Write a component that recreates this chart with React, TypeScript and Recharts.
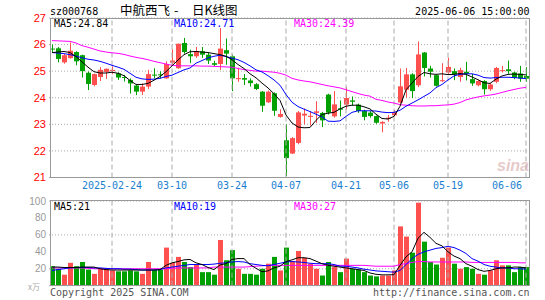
import { ComposedChart, Bar, Line, XAxis, YAxis, CartesianGrid, ReferenceLine } from "recharts";

// 中航西飞 日K线, 2025-02-10 .. 2025-06-06
const dates = [
  "2025-02-10", "2025-02-11", "2025-02-12", "2025-02-13", "2025-02-14",
  "2025-02-17", "2025-02-18", "2025-02-19", "2025-02-20", "2025-02-21",
  "2025-02-24", "2025-02-25", "2025-02-26", "2025-02-27", "2025-02-28",
  "2025-03-03", "2025-03-04", "2025-03-05", "2025-03-06", "2025-03-07",
  "2025-03-10", "2025-03-11", "2025-03-12", "2025-03-13", "2025-03-14",
  "2025-03-17", "2025-03-18", "2025-03-19", "2025-03-20", "2025-03-21",
  "2025-03-24", "2025-03-25", "2025-03-26", "2025-03-27", "2025-03-28",
  "2025-03-31", "2025-04-01", "2025-04-02", "2025-04-03", "2025-04-07",
  "2025-04-08", "2025-04-09", "2025-04-10", "2025-04-11", "2025-04-14",
  "2025-04-15", "2025-04-16", "2025-04-17", "2025-04-18", "2025-04-21",
  "2025-04-22", "2025-04-23", "2025-04-24", "2025-04-25", "2025-04-28",
  "2025-04-29", "2025-04-30", "2025-05-06", "2025-05-07", "2025-05-08",
  "2025-05-09", "2025-05-12", "2025-05-13", "2025-05-14", "2025-05-15",
  "2025-05-16", "2025-05-19", "2025-05-20", "2025-05-21", "2025-05-22",
  "2025-05-23", "2025-05-26", "2025-05-27", "2025-05-28", "2025-05-29",
  "2025-05-30", "2025-06-03", "2025-06-04", "2025-06-05", "2025-06-06",
];

const opens = [
  25.85, 25.86, 25.33, 25.49, 25.72, 25.6, 24.94, 24.48, 24.78, 24.97,
  25.0, 24.92, 24.78, 24.67, 24.46, 24.23, 24.42, 24.87, 24.88, 24.73,
  25.32, 25.11, 26.06, 25.64, 25.56, 25.75, 25.62, 25.3, 25.27, 25.79,
  25.56, 24.7, 24.74, 24.65, 24.51, 24.23, 23.83, 24.17, 23.28, 22.4,
  21.9, 22.3, 23.33, 23.28, 23.43, 23.43, 24.12, 23.3, 23.6, 23.74,
  23.9, 23.74, 23.5, 23.44, 23.31, 23.03, 23.2, 23.34, 23.82, 24.3,
  24.88, 24.47, 25.7, 25.1, 24.85, 24.62, 24.95, 25.0, 24.78, 24.98,
  24.7, 24.47, 24.63, 24.32, 24.6, 25.0, 25.07, 24.95, 24.91, 24.82,
];
const highs = [
  26.0, 25.91, 25.65, 26.08, 25.75, 25.62, 24.99, 24.91, 25.15, 25.1,
  25.18, 24.96, 24.86, 24.73, 24.48, 24.54, 25.05, 25.11, 24.99, 25.37,
  25.82, 26.04, 26.25, 25.81, 25.91, 25.91, 25.69, 25.39, 26.62, 26.23,
  25.62, 25.13, 24.89, 24.73, 24.55, 24.25, 24.27, 24.2, 23.57, 23.0,
  22.52, 23.5, 23.6, 23.5, 23.87, 23.47, 24.15, 24.25, 23.9, 24.4,
  24.05, 23.78, 23.55, 23.5, 23.33, 23.12, 23.35, 23.54, 25.1, 25.12,
  24.92, 26.12, 25.72, 25.2, 24.87, 25.3, 25.51, 25.1, 25.13, 25.35,
  24.9, 24.66, 24.66, 24.55, 25.16, 25.2, 25.4, 24.98, 25.2, 25.15,
];
const lows = [
  25.7, 25.33, 25.28, 25.47, 25.22, 24.76, 24.29, 24.43, 24.63, 24.71,
  24.88, 24.67, 24.61, 24.16, 24.1, 24.1, 24.33, 24.73, 24.73, 24.71,
  25.25, 25.09, 25.66, 25.3, 25.5, 25.5, 25.27, 25.18, 25.05, 25.24,
  24.25, 24.6, 24.48, 24.42, 24.29, 23.47, 23.8, 23.32, 23.25, 21.05,
  21.88, 22.25, 23.0, 22.95, 23.05, 22.9, 23.37, 23.25, 23.3, 23.56,
  23.7, 23.43, 23.15, 23.25, 23.02, 22.7, 23.1, 23.3, 23.78, 24.0,
  23.99, 24.4, 24.8, 24.76, 24.42, 24.6, 24.87, 24.66, 24.6, 24.65,
  24.45, 24.43, 24.12, 24.26, 24.55, 24.95, 24.9, 24.7, 24.6, 24.6,
];
const closes = [
  25.83, 25.46, 25.6, 25.77, 25.37, 25.0, 24.52, 24.89, 25.05, 25.09,
  25.05, 24.76, 24.75, 24.54, 24.23, 24.42, 24.89, 24.85, 24.86, 25.27,
  25.4, 26.03, 25.72, 25.56, 25.75, 25.62, 25.4, 25.24, 25.85, 25.66,
  24.73, 24.74, 24.68, 24.55, 24.33, 23.7, 24.23, 23.51, 23.39, 21.73,
  22.48, 23.45, 23.4, 23.32, 23.49, 23.15, 23.44, 23.75, 23.55, 23.99,
  23.85, 23.5, 23.28, 23.31, 23.06, 23.09, 23.25, 23.46, 24.43, 24.88,
  24.25, 25.63, 25.12, 24.98, 24.45, 24.66, 25.16, 24.88, 25.04, 24.9,
  24.54, 24.63, 24.32, 24.5, 25.12, 25.04, 25.0, 24.75, 24.72, 24.72,
];

// price moving averages as drawn
const ma5 = [
  25.7, 25.72, 25.74, 25.7, 25.55, 25.35, 25.15, 24.98, 24.93, 24.93,
  24.96, 24.92, 24.83, 24.65, 24.5, 24.5, 24.54, 24.66, 24.8, 24.98,
  25.2, 25.42, 25.62, 25.73, 25.74, 25.72, 25.7, 25.66, 25.62, 25.56,
  25.43, 25.25, 25.1, 24.9, 24.75, 24.55, 24.37, 24.15, 23.9, 23.35,
  23.05, 22.9, 22.87, 22.88, 23.15, 23.37, 23.42, 23.45, 23.58, 23.68,
  23.72, 23.72, 23.66, 23.58, 23.38, 23.22, 23.2, 23.3, 23.68, 24.3,
  24.55, 24.8, 24.95, 24.9, 24.88, 24.9, 24.87, 24.88, 24.91, 24.88,
  24.78, 24.68, 24.56, 24.54, 24.7, 24.82, 24.88, 24.89, 24.88, 24.86,
];
const ma10 = [
  25.7, 25.68, 25.66, 25.62, 25.57, 25.5, 25.45, 25.42, 25.37, 25.3,
  25.22, 25.15, 25.07, 24.92, 24.77, 24.71, 24.69, 24.7, 24.73, 24.8,
  24.85, 24.95, 25.05, 25.12, 25.3, 25.4, 25.5, 25.56, 25.6, 25.55,
  25.49, 25.43, 25.33, 25.2, 25.05, 24.97, 24.83, 24.67, 24.47, 24.12,
  23.83, 23.67, 23.57, 23.48, 23.38, 23.28, 23.12, 23.11, 23.13, 23.3,
  23.45, 23.51, 23.51, 23.51, 23.5, 23.46, 23.44, 23.45, 23.53, 23.68,
  23.8, 23.92, 24.05, 24.18, 24.38, 24.5, 24.67, 24.82, 24.88, 24.9,
  24.9, 24.85, 24.76, 24.74, 24.76, 24.77, 24.77, 24.76, 24.74, 24.72,
];
const ma30 = [
  26.15, 26.14, 26.13, 26.12, 26.06, 25.96, 25.9, 25.83, 25.76, 25.72,
  25.69, 25.67, 25.63, 25.57, 25.52, 25.48, 25.43, 25.37, 25.32, 25.27,
  25.22, 25.2, 25.2, 25.2, 25.2, 25.19, 25.19, 25.18, 25.17, 25.16,
  25.15, 25.1, 25.06, 25.03, 25.0, 25.0, 24.98, 24.96, 24.92, 24.85,
  24.73, 24.67, 24.63, 24.6, 24.55, 24.5, 24.45, 24.41, 24.37, 24.3,
  24.23, 24.16, 24.1, 24.06, 23.94, 23.9, 23.84, 23.8, 23.74, 23.72,
  23.7, 23.69, 23.69, 23.7, 23.7, 23.72, 23.73, 23.76, 23.82, 23.92,
  23.98, 24.03, 24.07, 24.1, 24.14, 24.2, 24.26, 24.31, 24.36, 24.39,
];

// 成交量 (万手)
const volumes = [
  23, 20, 13, 27, 23, 28, 19, 14, 20, 20,
  18, 17, 17, 18, 17, 14, 28, 19, 19, 45,
  27, 34, 28, 22, 25, 16, 16, 13, 54, 30,
  42, 20, 14, 14, 13, 20, 26, 34, 18, 45,
  29, 41, 33, 26, 20, 12, 28, 22, 16, 32,
  20, 19, 16, 12, 11, 12, 12, 18, 70, 58,
  39, 98, 52, 28, 25, 33, 45, 26, 20, 22,
  20, 14, 13, 18, 30, 24, 24, 16, 22, 22,
];
const vma5 = [
  22, 22, 21.5, 21.5, 21.5, 22, 22, 22, 20, 19,
  18.5, 18.5, 18.5, 18.5, 18.5, 18.5, 18.5, 18.5, 19, 24,
  27, 28.5, 30.5, 31, 27, 25, 21.5, 19, 24.5, 26,
  31, 32, 32, 25, 20.5, 16.5, 17.5, 21, 23, 28.5,
  30.5, 33, 33, 32, 29, 26, 24, 23, 22, 21,
  20, 19, 18, 15, 13.5, 12.8, 12.8, 13, 24, 34,
  40, 56, 63, 57, 50, 47, 40, 35, 32, 26,
  23, 19, 17, 18, 20, 21, 21, 22, 22, 21,
];
const vma10 = [
  18, 19, 20, 21, 21.5, 21.5, 21.5, 21, 21, 20.5,
  20, 20, 19.5, 19.5, 19, 18.5, 18.5, 18.5, 19, 21,
  22, 23, 24, 25, 25, 25, 25, 25.5, 26.5, 27,
  28, 28.5, 28, 26, 25, 24, 23.5, 25, 26.5, 28,
  28.5, 28, 27.5, 26.5, 26, 26, 26, 25, 23, 23,
  22, 21, 19.5, 18.5, 17.5, 17, 16.5, 16, 18, 25,
  32, 37, 40, 42, 44, 45, 46.5, 45, 42, 38,
  32, 29, 25, 23, 22, 21, 21, 20, 20, 19.5,
];
const vma30 = [
  21, 21, 21, 21, 21, 21, 20.5, 20, 20, 20,
  20, 20, 20, 20, 20, 20, 20, 20, 20, 20,
  20.5, 21, 21, 21, 21, 21, 21, 22, 22, 22,
  22, 22, 22, 22.5, 23, 23.5, 24, 24, 24, 24,
  24, 24, 24, 24, 24, 24, 24, 24, 24, 24,
  24, 24, 24, 23.5, 23, 23, 23, 23, 25, 26,
  27.5, 28.5, 28.5, 28, 28, 28, 28, 28, 28, 28,
  27.5, 27.5, 27.5, 27.5, 27.5, 27.5, 27.5, 27.5, 27, 27,
];

const tickDates = ["2025-02-24", "2025-03-10", "2025-03-24", "2025-04-07", "2025-04-21", "2025-05-06", "2025-05-19", "2025-06-06"];
const priceTicks = [21, 22, 23, 24, 25, 26, 27];
const volTicks = [0, 20, 40, 60, 80, 100];

const RED = "#ff5050";
const GREEN = "#00a000";
const MONO = "'DejaVu Sans Mono', monospace";
const SANS = "'Liberation Sans', Arial, sans-serif";
const GRID = "#aaaaaa";

const rows = dates.map((date, i) => ({
  date,
  open: opens[i],
  high: highs[i],
  low: lows[i],
  close: closes[i],
  range: [lows[i], highs[i]],
  ma5: ma5[i],
  ma10: ma10[i],
  ma30: ma30[i],
  vol: volumes[i],
  vma5: vma5[i],
  vma10: vma10[i],
  vma30: vma30[i],
}));

const fmtDate = (d: string) => (d === "2025-02-24" ? d : d.slice(5));

// last label sits left of its line so it stays inside the frame
function DateTick(props: any) {
  const { x, y, payload } = props;
  const last = payload.value === dates[dates.length - 1];
  return (
    <text
      x={last ? x - 4 : x}
      y={y}
      dy="0.71em"
      textAnchor={last ? "end" : "middle"}
      fill="#1a7fcf"
      fontSize={10}
      fontFamily={MONO}
    >
      {fmtDate(payload.value)}
    </text>
  );
}

function Candle(props: any) {
  const { x, y, width, height, payload } = props;
  if (x == null || !payload) return null;
  const top = Math.min(y, y + height);
  const h = Math.abs(height);
  const { open, close, high, low } = payload;
  const k = h / (high - low || 1);
  const yo = top + (high - open) * k;
  const yc = top + (high - close) * k;
  const color = close >= open ? RED : GREEN;
  const left = Math.round(x + width / 2 - 2.5);
  const cx = left + 2.5;
  return (
    <g>
      <line x1={cx} x2={cx} y1={top} y2={top + h} stroke={color} strokeWidth={1} />
      <rect x={left} y={Math.min(yo, yc)} width={5} height={Math.max(1, Math.abs(yo - yc))} fill={color} />
    </g>
  );
}

function VolBar(props: any) {
  const { x, y, width, height, payload } = props;
  if (x == null || !payload) return null;
  const left = Math.round(x + width / 2 - 2.5);
  return <rect x={left} y={y} width={5} height={Math.max(0, height)} fill={payload.close >= payload.open ? RED : GREEN} />;
}

export default function App() {
  return (
    <div style={{ position: "absolute", left: 0, top: 0, width: 545, height: 300, background: "#fff" }}>
      <div style={{ position: "absolute", left: 0, top: 0 }}>
        <ComposedChart width={545} height={200} data={rows} margin={{ top: 18, right: 16, bottom: 2.5, left: 0 }}>
          <CartesianGrid vertical={false} stroke={GRID} strokeDasharray="1 2" />
          <XAxis
            dataKey="date"
            ticks={tickDates}
            interval={0}
            axisLine={false}
            tickLine={false}
            tickSize={0}
            tickMargin={4}
            height={20}
            tick={<DateTick />}
          />
          <YAxis
            domain={[21, 27]}
            ticks={priceTicks}
            allowDataOverflow
            width={49}
            axisLine={false}
            tickLine={false}
            tickSize={0}
            tickMargin={3}
            tick={{ fill: "#ff0000", fontSize: 11, fontFamily: SANS }}
          />
          {tickDates.map((d) => (
            <ReferenceLine key={d} x={d} stroke={GRID} strokeDasharray="5 3" />
          ))}
          <Bar dataKey="range" shape={<Candle />} barSize={5} isAnimationActive={false} />
          <Line type="linear" dataKey="ma30" stroke="#ff00ff" strokeWidth={1} dot={false} isAnimationActive={false} />
          <Line type="linear" dataKey="ma10" stroke="#0000ff" strokeWidth={1} dot={false} isAnimationActive={false} />
          <Line type="linear" dataKey="ma5" stroke="#000000" strokeWidth={1} dot={false} isAnimationActive={false} />
        </ComposedChart>
      </div>
      <div style={{ position: "absolute", left: 0, top: 190 }}>
        <ComposedChart width={545} height={110} data={rows} margin={{ top: 11, right: 16, bottom: 14.3, left: 0 }}>
          <CartesianGrid vertical={false} stroke={GRID} strokeDasharray="1 2" />
          <XAxis dataKey="date" hide />
          <YAxis
            domain={[0, 100]}
            ticks={volTicks}
            allowDataOverflow
            width={49}
            axisLine={false}
            tickLine={false}
            tickSize={0}
            tickMargin={3}
            tickFormatter={(v: number) => (v === 0 ? "" : String(v))}
            tick={{ fill: "#999999", fontSize: 10, fontFamily: SANS }}
          />
          {tickDates.map((d) => (
            <ReferenceLine key={d} x={d} stroke={GRID} strokeDasharray="5 3" />
          ))}
          <Bar dataKey="vol" shape={<VolBar />} barSize={5} isAnimationActive={false} />
          <Line type="linear" dataKey="vma30" stroke="#ff00ff" strokeWidth={1} dot={false} isAnimationActive={false} />
          <Line type="linear" dataKey="vma10" stroke="#0000ff" strokeWidth={1} dot={false} isAnimationActive={false} />
          <Line type="linear" dataKey="vma5" stroke="#000000" strokeWidth={1} dot={false} isAnimationActive={false} />
        </ComposedChart>
      </div>
      <svg width={545} height={300} style={{ position: "absolute", left: 0, top: 0, pointerEvents: "none" }}>
        <rect x={50.5} y={18.5} width={479} height={159} fill="none" stroke="#999" />
        <rect x={50.5} y={200.5} width={479} height={85} fill="none" stroke="#999" />
        <text x={50} y={15} fontFamily={MONO} fontSize={10} fill="#000">sz000768</text>
        <text fontFamily="'Noto Sans CJK SC', sans-serif" fontSize={12.5} fill="#000" y={15}>
          <tspan x={120}>中航西飞 </tspan>
          <tspan x={174}>- </tspan>
          <tspan x={192}>日K线图</tspan>
        </text>
        <text x={529.5} y={15} textAnchor="end" fontFamily={MONO} fontSize={10} fill="#000">2025-06-06 15:00:00</text>
        <text x={54} y={27} fontFamily={MONO} fontSize={10} fill="#000">MA5:24.84</text>
        <text x={174} y={27} fontFamily={MONO} fontSize={10} fill="#0000ff">MA10:24.71</text>
        <text x={294} y={27} fontFamily={MONO} fontSize={10} fill="#ff00ff">MA30:24.39</text>
        <text x={54} y={210} fontFamily={MONO} fontSize={10} fill="#000">MA5:21</text>
        <text x={174} y={210} fontFamily={MONO} fontSize={10} fill="#0000ff">MA10:19</text>
        <text x={294} y={210} fontFamily={MONO} fontSize={10} fill="#ff00ff">MA30:27</text>
        <text x={28} y={290} fontFamily="'Noto Sans CJK SC', sans-serif" fontSize={8} fill="#aaa">x万</text>
        <text x={50} y={295.5} fontFamily={MONO} fontSize={10} fill="#555">Copyright 2025 SINA.COM</text>
        <text x={529.5} y={295.5} textAnchor="end" fontFamily={MONO} fontSize={10} fill="#555">http://finance.sina.com.cn</text>
        <text x={497} y={171} fontFamily={SANS} fontSize={16} fontStyle="italic" fontWeight="bold" fill="#d8a8a8" opacity={0.6}>sina</text>
      </svg>
    </div>
  );
}
